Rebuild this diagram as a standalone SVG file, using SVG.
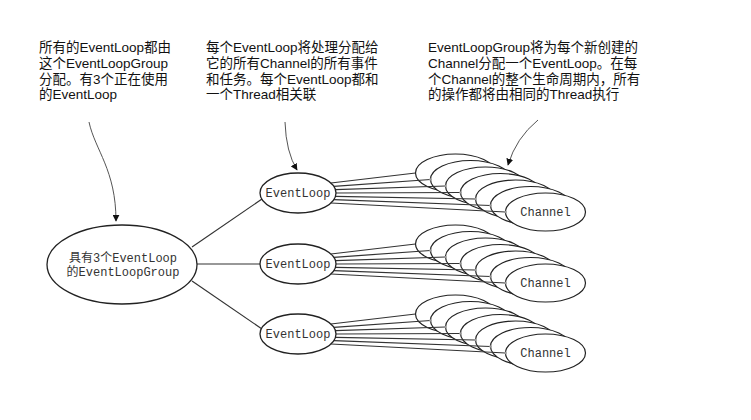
<svg xmlns="http://www.w3.org/2000/svg" width="751" height="420" viewBox="0 0 751 420">
<defs>
<style>
.note{font-family:"Liberation Sans","Noto Sans CJK SC",sans-serif;font-size:13.5px;fill:#111}
.lbl{font-family:"Liberation Mono","Noto Sans CJK SC",monospace;font-size:12px;fill:#333;text-anchor:middle}
.node{fill:#fff;stroke:#222;stroke-width:1.3}
.ch{fill:#fff;stroke:#222;stroke-width:1.2}
.wire{stroke:#333;stroke-width:1.2;fill:none}
.call{stroke:#555;stroke-width:1;fill:none;marker-end:url(#ah)}
.dot{fill:#999}
</style>
<marker id="ah" viewBox="0 0 10 10" refX="9" refY="5" markerWidth="7" markerHeight="7" markerUnits="userSpaceOnUse" orient="auto">
<path d="M0,0 L10,5 L0,10 z" fill="#111"/>
</marker>
<g id="stackshape">
<ellipse class="ch" cx="455.5" cy="173" rx="40" ry="19"/>
<ellipse class="ch" cx="470.5" cy="179.5" rx="40" ry="19"/>
<ellipse class="ch" cx="485.5" cy="186" rx="40" ry="19"/>
<ellipse class="ch" cx="500.5" cy="192.5" rx="40" ry="19"/>
<ellipse class="ch" cx="515.5" cy="199" rx="40" ry="19"/>
<ellipse class="ch" cx="530.5" cy="205.5" rx="40" ry="19"/>
<ellipse class="ch" cx="545.5" cy="212" rx="40" ry="19"/>
</g>
<g id="fan">
<path class="wire" d="M330.9,183 L415.5,173 M333.8,186.3 L430.5,179.5 M335.5,189.7 L445.5,186 M336,193 L460.5,192.5 M335.5,196.3 L475.5,199 M333.8,199.7 L490.5,205.5 M330.9,203 L505.5,212"/>
<circle class="dot" cx="430.5" cy="179.5" r="1.3"/>
<circle class="dot" cx="445.5" cy="186" r="1.3"/>
<circle class="dot" cx="460.5" cy="192.5" r="1.3"/>
<circle class="dot" cx="475.5" cy="199" r="1.3"/>
<circle class="dot" cx="490.5" cy="205.5" r="1.3"/>
<circle class="dot" cx="505.5" cy="212" r="1.3"/>
</g>
</defs>
<rect width="751" height="420" fill="#fff"/>

<g id="notes">
<text class="note" x="39" y="52">所有的EventLoop都由</text>
<text class="note" x="39" y="67.8">这个EventLoopGroup</text>
<text class="note" x="39" y="83.6">分配。有3个正在使用</text>
<text class="note" x="39" y="99.4">的EventLoop</text>
<text class="note" x="206" y="52">每个EventLoop将处理分配给</text>
<text class="note" x="206" y="67.8">它的所有Channel的所有事件</text>
<text class="note" x="206" y="83.6">和任务。每个EventLoop都和</text>
<text class="note" x="206" y="99.4">一个Thread相关联</text>
<text class="note" x="428" y="52">EventLoopGroup将为每个新创建的</text>
<text class="note" x="428" y="67.8">Channel分配一个EventLoop。在每</text>
<text class="note" x="428" y="83.6">个Channel的整个生命周期内，所有</text>
<text class="note" x="428" y="99.4">的操作都将由相同的Thread执行</text>
</g>

<g id="channels-1"><use href="#stackshape"/><text class="lbl" x="545.5" y="216">Channel</text></g>
<g id="channels-2" transform="translate(0,71)"><use href="#stackshape"/><text class="lbl" x="545.5" y="216">Channel</text></g>
<g id="channels-3" transform="translate(0,141)"><use href="#stackshape"/><text class="lbl" x="545.5" y="216">Channel</text></g>

<g id="connectors">
<path class="wire" d="M192,247 L262,199"/>
<path class="wire" d="M197,264 L260,264"/>
<path class="wire" d="M192,281 L262,329"/>
<use href="#fan"/>
<use href="#fan" transform="translate(0,71)"/>
<use href="#fan" transform="translate(0,141)"/>
<path class="call" d="M89,122 C95,150 116,170 116,221"/>
<path class="call" d="M285,122 Q286,152 297,170"/>
<path class="call" d="M538,120 Q516,138 508,165"/>
</g>

<g id="eventloopgroup">
<ellipse class="node" cx="122" cy="264.5" rx="75" ry="39.5"/>
<text class="lbl" x="123" y="261.5">具有3个EventLoop</text>
<text class="lbl" x="123" y="276">的EventLoopGroup</text>
</g>
<g id="eventloop-1">
<ellipse class="node" cx="298" cy="193" rx="38" ry="20"/>
<text class="lbl" x="298" y="197">EventLoop</text>
</g>
<g id="eventloop-2">
<ellipse class="node" cx="298" cy="264" rx="38" ry="20"/>
<text class="lbl" x="298" y="268">EventLoop</text>
</g>
<g id="eventloop-3">
<ellipse class="node" cx="298" cy="334" rx="38" ry="20"/>
<text class="lbl" x="298" y="338">EventLoop</text>
</g>
</svg>
